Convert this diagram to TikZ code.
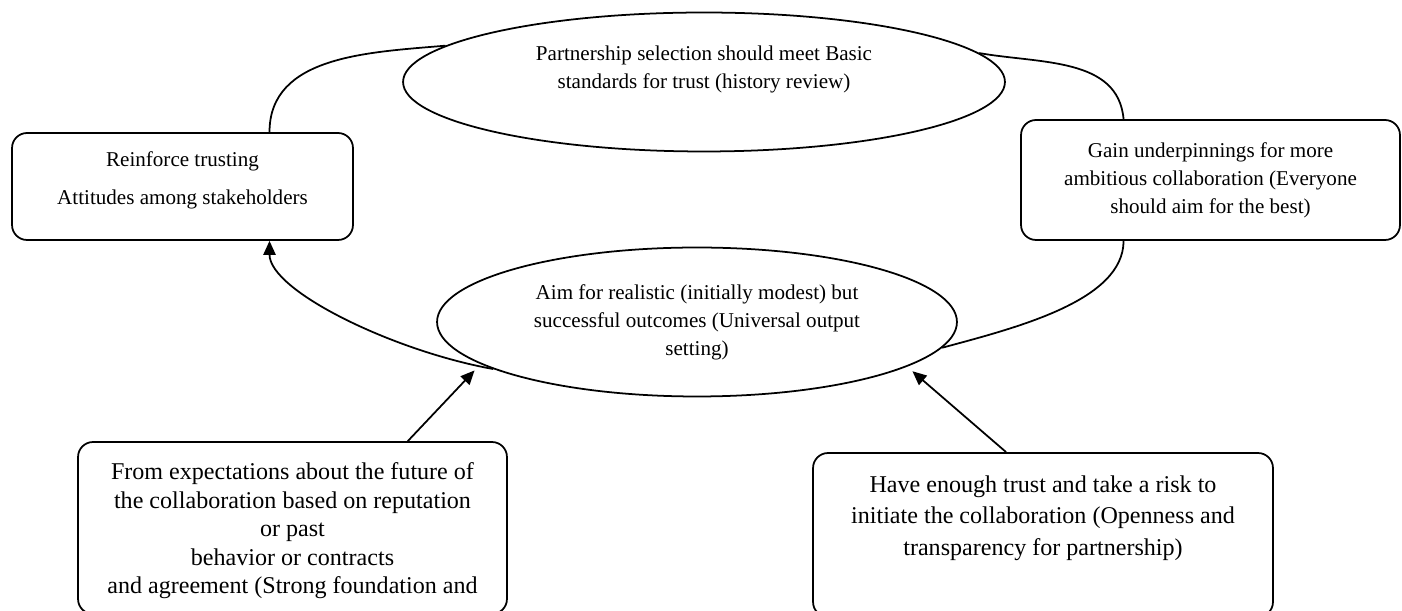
\documentclass[tikz,border=0pt]{standalone}
\usepackage{fontspec}
\setmainfont{Liberation Serif}
\usetikzlibrary{shapes.geometric,arrows.meta}
\begin{document}
\begin{tikzpicture}[x=0.02cm,y=0.02cm,
  every node/.style={font=\fontsize{12}{16}\selectfont},
  stagebox/.style={draw,line width=1pt,rounded corners=0.3cm,align=center,inner sep=0pt},
  ovalnode/.style={draw,ellipse,line width=1pt,align=center,inner sep=0pt},
  txt/.style={align=center,inner sep=0pt},
  link/.style={line width=1pt},
  arr/.style={line width=1pt,-{Triangle[length=8pt,width=7pt]}}]
\path[use as bounding box,clip] (0,0) rectangle (1402,611);
\node[ovalnode,minimum width=12.04cm,minimum height=2.78cm] (sel) at (704,529) {};
\node[txt] (selT) at (704,541.5) {Partnership selection should meet Basic\\standards for trust (history review)};
\node[ovalnode,minimum width=10.4cm,minimum height=2.98cm] (aim) at (697,289) {Aim for realistic (initially modest) but\\successful outcomes (Universal output\\setting)};
\node[stagebox,minimum width=6.82cm,minimum height=2.14cm] (reinf) at (182.5,424.5) {};
\node[txt] (reinfT) at (182.5,431) {Reinforce trusting\\[5.6pt]Attitudes among stakeholders};
\node[stagebox,minimum width=7.58cm,minimum height=2.4cm] (gain) at (1210.5,431) {Gain underpinnings for more\\ambitious collaboration (Everyone\\should aim for the best)};
\node[stagebox,minimum width=8.58cm,minimum height=3.44cm] (expect) at (292.5,83) {};
\node[txt,font=\fontsize{13.7}{16.2}\selectfont] (expectT) at (292.5,80) {From expectations about the future of\\the collaboration based on reputation\\or past\\behavior or contracts\\and agreement (Strong foundation and};
\node[stagebox,minimum width=9.2cm,minimum height=3.28cm] (trust) at (1043,76) {};
\node[txt,font=\fontsize{13.7}{18}\selectfont] (trustT) at (1043,93) {Have enough trust and take a risk to\\initiate the collaboration (Openness and\\transparency for partnership)};
\draw[link] (reinf.32) to[out=90,in=185] (sel.172.9);
\draw[link] (sel.6.3) to[out=-10,in=95] (gain.145.6);
\draw[link] (gain.-145.6) .. controls +(0,-60) and +(74,20) .. (aim.-6.7);
\draw[arr] (aim.193) .. controls +(-100,18) and +(0,-50) .. (reinf.-32);
\draw[arr,shorten >=5pt] (expect.37.9) -- (aim.191.5);
\draw[arr,shorten >=4pt] (trust.114.9) -- (aim.-12.3);
\end{tikzpicture}
\end{document}
